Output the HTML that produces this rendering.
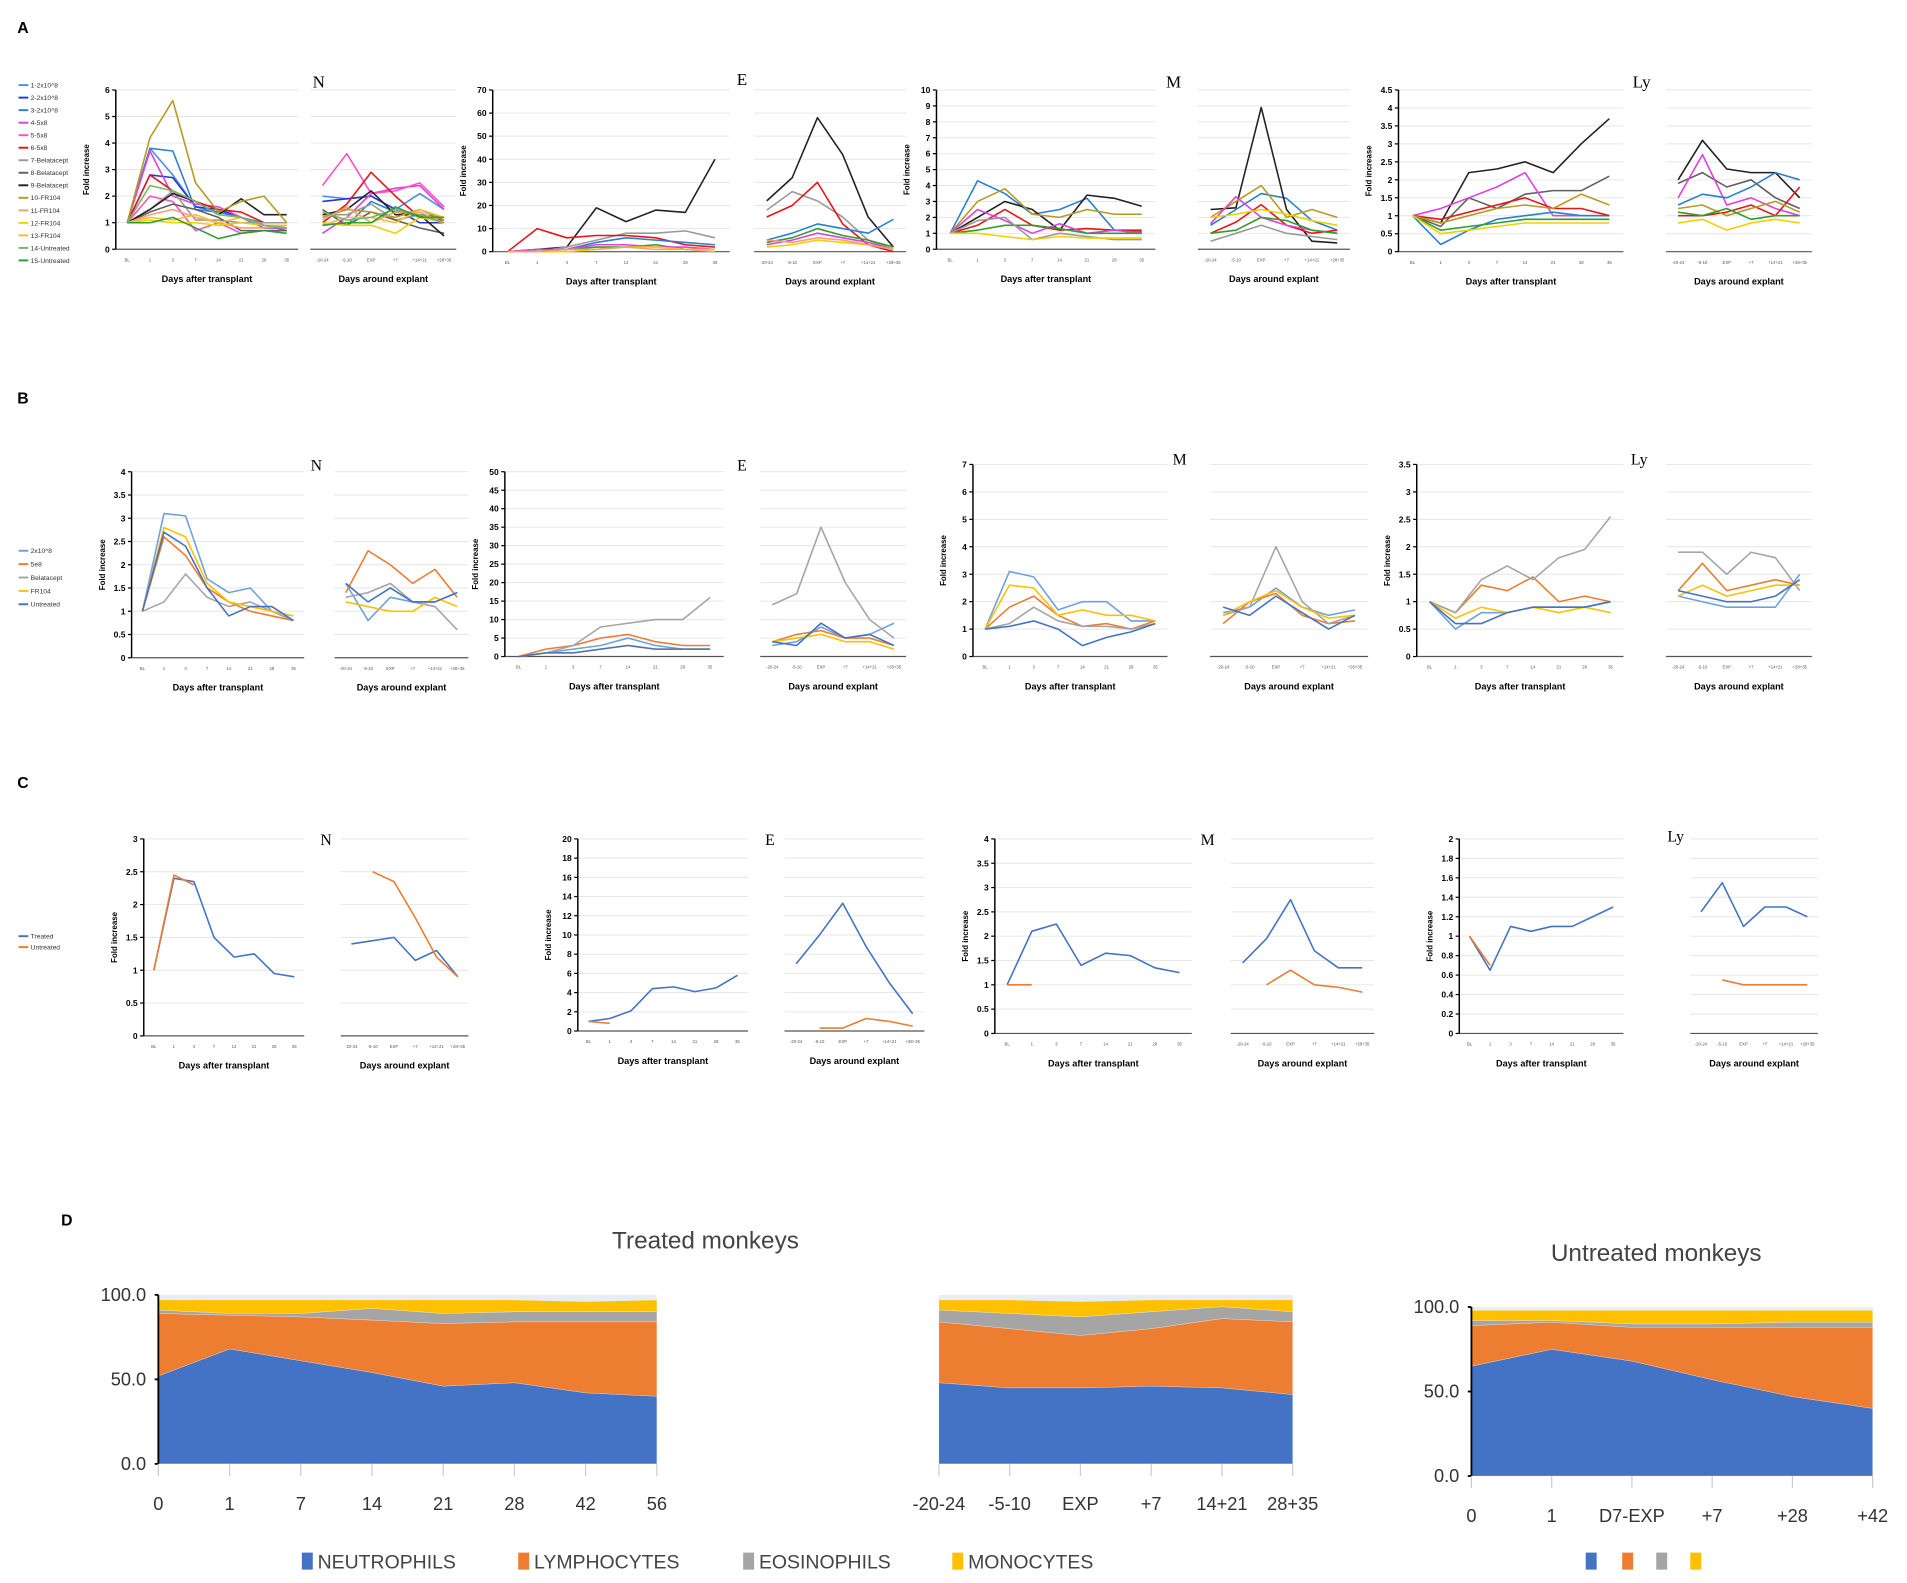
<!DOCTYPE html>
<html><head><meta charset="utf-8"><style>
html,body{margin:0;padding:0;background:#fff}
svg{display:block;font-family:"Liberation Sans",sans-serif}
</style></head><body>
<svg id="fig" width="1907" height="1583" viewBox="0 0 1568 1302" xmlns="http://www.w3.org/2000/svg">
<rect width="1568" height="1302" fill="#fff"/>
<g id="root"></g>
</svg>
<script>
// ---------- DATA ----------
const leftDays = ["BL","1","3","7","14","21","28","35"];
const rightDays = ["-20-24","-5-10","EXP","+7","+14+21","+28+35"];
const dCatsTreated = ["0","1","7","14","21","28","42","56"];
const dCatsMid = ["-20-24","-5-10","EXP","+7","14+21","28+35"];
const dCatsUntreated = ["0","1","D7-EXP","+7","+28","+42"];

const aLegend = ["1-2x10^8","2-2x10^8","3-2x10^8","4-5x8","5-5x8","6-5x8","7-Belatacept","8-Belatacept","9-Belatacept","10-FR104","11-FR104","12-FR104","13-FR104","14-Untreated","15-Untreated"];
const aColors = ["#4a8fdc","#2438d8","#2a7fd0","#e040e0","#ff50c8","#e8141a","#9a9a9a","#606060","#222222","#b89a20","#f4a070","#f0d000","#f5c030","#78b868","#2e9e2e"];

const aNLeft = [[1,3.8,2.8,1.6,1.4,1.2,1.0,1.0],[1,2.8,2.7,1.6,1.5,1.2,0.8,0.8],[1,3.8,3.7,1.5,1.4,1.2,0.9,0.7],[1,3.7,2.0,1.7,1.6,1.2,0.8,0.8],[1,2.0,1.8,0.7,1.0,0.6,0.7,0.7],[1,2.8,2.2,1.8,1.5,1.4,1.0,1.0],[1,1.5,2.2,1.1,1.1,1.0,1.0,1.0],[1,1.4,1.7,1.5,1.2,0.7,0.7,0.7],[1,1.5,2.1,1.8,1.3,1.9,1.3,1.3],[1,4.2,5.6,2.5,1.4,1.8,2.0,1.0],[1,1.3,1.5,1.2,1.0,0.8,0.8,0.9],[1,1.1,1.0,1.0,0.9,1.0,0.9,0.8],[1,1.2,1.1,1.3,1.0,1.2,0.9,0.9],[1,2.4,2.2,1.8,1.3,1.2,0.9,0.8],[1,1.0,1.2,0.8,0.4,0.6,0.7,0.6]];
const aNRight = [[2.0,1.9,2.0,1.5,2.1,1.5],[1.8,1.9,2.0,1.5,1.0,1.0],[1.0,0.9,1.8,1.4,1.3,1.2],[0.6,1.2,2.1,2.3,2.4,1.5],[2.4,3.6,2.1,2.2,2.5,1.6],[1.0,1.7,2.9,2.0,1.2,1.1],[1.3,1.3,1.7,1.1,1.3,1.0],[1.5,0.9,1.4,1.1,0.8,0.6],[1.3,1.5,2.2,1.3,1.3,0.5],[1.2,1.5,1.4,1.2,1.5,1.1],[1.1,1.6,1.0,1.4,1.4,1.0],[1.0,0.9,0.9,0.6,1.2,1.0],[0.9,1.2,1.2,1.0,1.5,1.2],[1.4,1.1,1.2,1.5,1.3,1.0],[0.9,1.0,1.0,1.6,1.2,1.2]];
const aSubColors = ["#222222","#9a9a9a","#e8141a","#2a7fd0","#2e9e2e","#e040e0","#f0d000","#f4a070"];
const aELeft = [[0,1,2,19,13,18,17,40],[0,0,2,5,8,8,9,6],[0,10,6,7,7,6,3,2],[0,0,1,4,6,5,4,3],[0,0,1,2,2,3,1,1],[0,1,1,3,3,2,2,1],[0,0,0,1,2,2,1,1],[0,0,1,1,2,1,1,0]];
const aERight = [[22,32,58,42,15,2],[18,26,22,15,5,1],[15,20,30,12,3,0],[5,8,12,10,8,14],[4,6,10,7,5,2],[3,5,8,6,4,1],[2,3,5,4,3,1],[5,4,6,5,3,1]];
const aMColors = ["#2a7fd0","#222222","#b89a20","#e8141a","#e040e0","#2e9e2e","#9a9a9a","#f0d000"];
const aMLeft = [[1,4.3,3.5,2.2,2.5,3.2,1.2,1.1],[1,2,3,2.5,1.2,3.4,3.2,2.7],[1,3,3.8,2.2,2.0,2.5,2.2,2.2],[1,1.5,2.5,1.5,1.2,1.3,1.2,1.2],[1,2.5,1.8,1.0,1.6,1.0,1.2,1.0],[1,1.2,1.5,1.5,1.3,1.0,1.0,1.0],[1,1.8,2.0,0.6,1.0,0.8,0.6,0.6],[1,1.0,0.8,0.6,0.8,0.7,0.7,0.7]];
const aMRight = [[1.5,2.5,3.5,3.2,1.8,1.2],[2.5,2.6,8.9,2.5,0.5,0.4],[2.0,3.0,4.0,2.0,2.5,2.0],[1.0,1.7,2.8,1.5,1.0,1.2],[1.6,3.3,2.0,1.5,1.2,1.0],[1.0,1.2,2.0,1.8,1.2,1.0],[0.5,1.0,1.5,1.0,0.8,0.6],[2.0,2.2,2.5,2.2,1.8,1.5]];
const aLyColors = ["#222222","#606060","#e040e0","#2a7fd0","#e8141a","#b89a20","#2e9e2e","#f0d000"];
const aLyLeft = [[1,0.8,2.2,2.3,2.5,2.2,3,3.7],[1,0.7,1.5,1.2,1.6,1.7,1.7,2.1],[1,1.2,1.5,1.8,2.2,1.0,1.0,1.0],[1,0.2,0.6,0.9,1.0,1.1,1.0,1.0],[1,0.9,1.1,1.3,1.5,1.2,1.2,1.0],[1,0.8,1.0,1.2,1.3,1.2,1.6,1.3],[1,0.6,0.7,0.8,0.9,0.9,0.9,0.9],[1,0.5,0.6,0.7,0.8,0.8,0.8,0.8]];
const aLyRight = [[2.0,3.1,2.3,2.2,2.2,1.5],[1.9,2.2,1.8,2.0,1.5,1.2],[1.5,2.7,1.3,1.5,1.2,1.0],[1.3,1.6,1.5,1.8,2.2,2.0],[1.0,1.0,1.1,1.3,1.0,1.8],[1.2,1.3,1.0,1.2,1.4,1.1],[1.1,1.0,1.2,0.9,1.0,1.0],[0.8,0.9,0.6,0.8,0.9,0.8]];

const bLegend = ["2x10^8","5e8","Belatacept","FR104","Untreated"];
const bColors = ["#6fa0e0","#ed7d31","#a5a5a5","#ffc000","#4472c4"];
const bNLeft = [[1,3.1,3.05,1.7,1.4,1.5,1.0,0.8],[1,2.6,2.2,1.5,1.2,1.0,0.9,0.8],[1,1.2,1.8,1.3,1.1,1.2,1.0,0.8],[1,2.8,2.6,1.6,1.2,1.1,1.0,0.9],[1,2.7,2.4,1.5,0.9,1.1,1.1,0.8]];
const bNRight = [[1.6,0.8,1.3,1.2,1.2,1.4],[1.4,2.3,2.0,1.6,1.9,1.3],[1.3,1.4,1.6,1.2,1.1,0.6],[1.2,1.1,1.0,1.0,1.3,1.1],[1.6,1.2,1.5,1.2,1.2,1.4]];
const bELeft = [[0,1,2,3,5,3,2,2],[0,2,3,5,6,4,3,3],[0,1,3,8,9,10,10,16],[0,1,1,2,3,2,2,2],[0,1,1,2,3,2,2,2]];
const bERight = [[3,4,8,5,6,9],[4,6,7,5,5,3],[14,17,35,20,10,5],[4,5,6,4,4,2],[4,3,9,5,6,3]];
const bMLeft = [[1,3.1,2.9,1.7,2.0,2.0,1.3,1.3],[1,1.8,2.2,1.5,1.1,1.2,1.0,1.3],[1,1.2,1.8,1.3,1.1,1.1,1.0,1.2],[1,2.6,2.5,1.5,1.7,1.5,1.5,1.3],[1,1.1,1.3,1.0,0.4,0.7,0.9,1.2]];
const bMRight = [[1.6,1.8,2.5,1.8,1.5,1.7],[1.2,2.0,2.3,1.5,1.2,1.3],[1.5,1.8,4.0,2.0,1.2,1.5],[1.5,2.0,2.4,1.8,1.4,1.5],[1.8,1.5,2.2,1.6,1.0,1.5]];
const bLyLeft = [[1,0.5,0.8,0.8,0.9,0.9,0.9,1.0],[1,0.8,1.3,1.2,1.45,1.0,1.1,1.0],[1,0.8,1.4,1.65,1.4,1.8,1.95,2.55],[1,0.7,0.9,0.8,0.9,0.8,0.9,0.8],[1,0.6,0.6,0.8,0.9,0.9,0.9,1.0]];
const bLyRight = [[1.1,1.0,0.9,0.9,0.9,1.5],[1.2,1.7,1.2,1.3,1.4,1.3],[1.9,1.9,1.5,1.9,1.8,1.2],[1.1,1.3,1.1,1.2,1.3,1.3],[1.2,1.1,1.0,1.0,1.1,1.4]];

const cLegend = ["Treated","Untreated"];
const cColors = ["#4472c4","#ed7d31"];
const cNLeft = [[1,2.4,2.35,1.5,1.2,1.25,0.95,0.9],[1,2.45,2.3,null,null,null,null,null]];
const cNRight = [[1.4,1.45,1.5,1.15,1.3,0.9],[null,2.5,2.35,1.8,1.2,0.9]];
const cELeft = [[1,1.3,2.1,4.4,4.6,4.1,4.5,5.8],[1,0.8,null,null,null,null,null,null]];
const cERight = [[7,10,13.3,8.8,5,1.8],[null,0.3,0.3,1.3,1,0.5]];
const cMLeft = [[1,2.1,2.25,1.4,1.65,1.6,1.35,1.25],[1,1,null,null,null,null,null,null]];
const cMRight = [[1.45,1.95,2.75,1.7,1.35,1.35],[null,1,1.3,1,0.95,0.85]];
const cLyLeft = [[1,0.65,1.1,1.05,1.1,1.1,1.2,1.3],[1,0.7,null,null,null,null,null,null]];
const cLyRight = [[1.25,1.55,1.1,1.3,1.3,1.2],[null,0.55,0.5,0.5,0.5,0.5]];

const dNames = ["NEUTROPHILS","LYMPHOCYTES","EOSINOPHILS","MONOCYTES"];
const dColors = ["#4472c4","#ed7d31","#a5a5a5","#ffc000"];
const dTreatedNeut = [52,68,61,54,46,48,42,40];
const dTreatedLymph = [37,20,26,31,37,36,42,44];
const dTreatedEos = [2,1,2,7,6,6,6,6];
const dTreatedMono = [6,8,8,5,8,7,6,7];
const dMidNeut = [48,45,45,46,45,41];
const dMidLymph = [36,35,31,34,41,43];
const dMidEos = [7,9,11,10,7,6];
const dMidMono = [6,8,9,7,4,7];
const dUntrNeut = [65,75,68,57,47,40];
const dUntrLymph = [24,16,20,31,41,48];
const dUntrEos = [3,1,2,2,3,3];
const dUntrMono = [6,6,8,8,7,7];

// ---------- HELPERS ----------
const NS = "http://www.w3.org/2000/svg";
const root = document.getElementById('root');
function el(tag, attrs, parent, txt){
  const e = document.createElementNS(NS, tag);
  for (const k in attrs) e.setAttribute(k, attrs[k]);
  if (txt !== undefined) e.textContent = txt;
  (parent || root).appendChild(e);
  return e;
}
function txt(x,y,s,size,opts,parent,name){
  opts = opts||{};
  const t = el('text',{x:x,y:y,'font-size':size,fill:opts.fill||'#000','text-anchor':opts.anchor||'start','font-weight':opts.bold?'bold':'normal','font-family':opts.serif?'"Liberation Serif",serif':'"Liberation Sans",sans-serif'},parent,s);
  if (opts.rot) t.setAttribute('transform','rotate(-90 '+x+' '+y+')');
  
  
  return t;
}

// line panel
function linePanel(name, x0, x1, yTop, yBot, yMax, step, cats, series, colors, showY, xTitle, sw){
  const g = el('g',{});
  
  
  const n = cats.length;
  const pad = (x1-x0)/(n*2);
  const xs = i => x0 + pad + i*((x1-x0-2*pad)/(n-1));
  const ys = v => yBot - (v/yMax)*(yBot-yTop);
  for (let v=0; v<=yMax+1e-9; v+=step){
    const y = ys(v);
    if (v>0){ const gl = el('line',{x1:x0,x2:x1,y1:y,y2:y,stroke:'#e6e6e6','stroke-width':0.8},g);
        }
    if (showY){
      el('line',{x1:x0-3,x2:x0,y1:y,y2:y,stroke:'#000','stroke-width':1},g);
      txt(x0-5,y+2.5,String(Math.round(v*10)/10),7,{anchor:'end',bold:true},g,'y-tick-label');
    }
  }
  const ax = el('line',{x1:x0,x2:x1,y1:yBot,y2:yBot,stroke:'#555','stroke-width':1},g);
   
  if (showY){
    const ay = el('line',{x1:x0,x2:x0,y1:yTop,y2:yBot,stroke:'#000','stroke-width':1.2},g);
     
    txt(x0-22,(yTop+yBot)/2,'Fold increase',6.5,{anchor:'middle',bold:true,rot:true},g,'y-axis-title');
  }
  for (let i=0;i<n;i++){
    txt(xs(i),yBot+10,cats[i],3.5,{anchor:'middle',fill:'#555'},g,'x-tick-label');
  }
  txt((x0+x1)/2,yBot+27,xTitle,7.5,{anchor:'middle',bold:true},g,'x-axis-title');
  series.forEach((s,si)=>{
    let d='';
    let started=false;
    s.forEach((v,i)=>{ if (v===null||v===undefined){started=false;return;}
      d += (started?'L':'M')+xs(i).toFixed(1)+' '+ys(v).toFixed(1)+' '; started=true; });
    const p = el('path',{d:d,fill:'none',stroke:colors[si%colors.length],'stroke-width':sw||1.3,'stroke-linejoin':'round'},g);
    
    
  });
  return g;
}

function legend(names, colors, x, y, dy, size, name){
  const g = el('g',{});
  
  
  names.forEach((nm,i)=>{
    el('line',{x1:x,x2:x+8,y1:y+i*dy-2,y2:y+i*dy-2,stroke:colors[i],'stroke-width':1.6},g);
    txt(x+10,y+i*dy,nm,size,{fill:'#333'},g,'legend-entry');
  });
}

function areaPanel(name, x0, x1, yTop, yBot, cats, layers, showY){
  const g = el('g',{});
  
  
  const n = cats.length;
  const xs = i => x0 + i*(x1-x0)/(n-1);
  const ys = v => yBot - v/100*(yBot-yTop);
  // background top band
  const bg = el('rect',{x:x0,y:ys(100),width:x1-x0,height:ys(0)-ys(100),fill:'#e8ecf4'},g);
   
  let base = new Array(n).fill(0);
  layers.forEach((L,li)=>{
    const top = L.map((v,i)=>base[i]+v);
    let pts = [];
    for (let i=0;i<n;i++) pts.push(xs(i).toFixed(1)+','+ys(top[i]).toFixed(1));
    for (let i=n-1;i>=0;i--) pts.push(xs(i).toFixed(1)+','+ys(base[i]).toFixed(1));
    const p = el('polygon',{points:pts.join(' '),fill:dColors[li],stroke:'#fff','stroke-width':0.4,'stroke-opacity':0.5},g);
    
    
    base = top;
  });
  if (showY){
    const ay = el('line',{x1:x0,x2:x0,y1:ys(100),y2:ys(0),stroke:'#000','stroke-width':1.5},g);
     
    [0,50,100].forEach(v=>{
      el('line',{x1:x0-3,x2:x0,y1:ys(v),y2:ys(v),stroke:'#000','stroke-width':1.5},g);
      txt(x0-10,ys(v)+5,v.toFixed(1),15,{anchor:'end',fill:'#333'},g,'y-tick-label');
    });
  }
  for (let i=0;i<n;i++){
    el('line',{x1:xs(i),x2:xs(i),y1:yBot,y2:yBot+10,stroke:'#ccc','stroke-width':1},g);
    txt(xs(i),yBot+38,cats[i],15,{anchor:'middle',fill:'#333'},g,'x-tick-label');
  }
}

// ---------- PANEL LABELS ----------
txt(14,27,'A',13,{bold:true},null,'panel-label-a');
txt(14,332,'B',13,{bold:true},null,'panel-label-b');
txt(14,648,'C',13,{bold:true},null,'panel-label-c');
txt(50,1008,'D',13,{bold:true},null,'panel-label-d');

// ---------- PANEL A ----------
legend(aLegend, aColors, 15, 72, 10.3, 5.5, 'legend-a');
linePanel('a-n-left',95,245,74,205,6,1,leftDays,aNLeft,aColors,true,'Days after transplant');
linePanel('a-n-right',255,375,74,205,6,1,rightDays,aNRight,aColors,false,'Days around explant');
txt(262,72,'N',14,{anchor:'middle',serif:true},null,'title-a-n');
linePanel('a-e-left',405,600,74,207,70,10,leftDays,aELeft,aSubColors,true,'Days after transplant');
linePanel('a-e-right',620,745,74,207,70,10,rightDays,aERight,aSubColors,false,'Days around explant');
txt(610,70,'E',14,{anchor:'middle',serif:true},null,'title-a-e');
linePanel('a-m-left',770,950,74,205,10,1,leftDays,aMLeft,aMColors,true,'Days after transplant');
linePanel('a-m-right',985,1110,74,205,10,1,rightDays,aMRight,aMColors,false,'Days around explant');
txt(965,72,'M',14,{anchor:'middle',serif:true},null,'title-a-m');
linePanel('a-ly-left',1150,1335,74,207,4.5,0.5,leftDays,aLyLeft,aLyColors,true,'Days after transplant');
linePanel('a-ly-right',1370,1490,74,207,4.5,0.5,rightDays,aLyRight,aLyColors,false,'Days around explant');
txt(1350,72,'Ly',14,{anchor:'middle',serif:true},null,'title-a-ly');

// ---------- PANEL B ----------
legend(bLegend, bColors, 15, 455, 11, 5.5, 'legend-b');
linePanel('b-n-left',108,250,388,541,4,0.5,leftDays,bNLeft,bColors,true,'Days after transplant');
linePanel('b-n-right',275,385,388,541,4,0.5,rightDays,bNRight,bColors,false,'Days around explant');
txt(260,387,'N',13,{anchor:'middle',serif:true},null,'title-b-n');
linePanel('b-e-left',415,595,388,540,50,5,leftDays,bELeft,bColors,true,'Days after transplant');
linePanel('b-e-right',625,745,388,540,50,5,rightDays,bERight,bColors,false,'Days around explant');
txt(610,387,'E',13,{anchor:'middle',serif:true},null,'title-b-e');
linePanel('b-m-left',800,960,382,540,7,1,leftDays,bMLeft,bColors,true,'Days after transplant');
linePanel('b-m-right',995,1125,382,540,7,1,rightDays,bMRight,bColors,false,'Days around explant');
txt(970,382,'M',13,{anchor:'middle',serif:true},null,'title-b-m');
linePanel('b-ly-left',1165,1335,382,540,3.5,0.5,leftDays,bLyLeft,bColors,true,'Days after transplant');
linePanel('b-ly-right',1370,1490,382,540,3.5,0.5,rightDays,bLyRight,bColors,false,'Days around explant');
txt(1348,382,'Ly',13,{anchor:'middle',serif:true},null,'title-b-ly');

// ---------- PANEL C ----------
legend(cLegend, cColors, 15, 772, 9, 5.5, 'legend-c');
linePanel('c-n-left',118,250,690,852,3,0.5,leftDays,cNLeft,cColors,true,'Days after transplant');
linePanel('c-n-right',280,385,690,852,3,0.5,rightDays,cNRight,cColors,false,'Days around explant');
txt(268,695,'N',13,{anchor:'middle',serif:true},null,'title-c-n');
linePanel('c-e-left',475,615,690,848,20,2,leftDays,cELeft,cColors,true,'Days after transplant');
linePanel('c-e-right',645,760,690,848,20,2,rightDays,cERight,cColors,false,'Days around explant');
txt(633,695,'E',13,{anchor:'middle',serif:true},null,'title-c-e');
linePanel('c-m-left',818,980,690,850,4,0.5,leftDays,cMLeft,cColors,true,'Days after transplant');
linePanel('c-m-right',1012,1130,690,850,4,0.5,rightDays,cMRight,cColors,false,'Days around explant');
txt(993,695,'M',13,{anchor:'middle',serif:true},null,'title-c-m');
linePanel('c-ly-left',1200,1335,690,850,2,0.2,leftDays,cLyLeft,cColors,true,'Days after transplant');
linePanel('c-ly-right',1390,1495,690,850,2,0.2,rightDays,cLyRight,cColors,false,'Days around explant');
txt(1378,692,'Ly',13,{anchor:'middle',serif:true},null,'title-c-ly');

// ---------- PANEL D ----------
txt(580,1027,'Treated monkeys',20,{anchor:'middle',fill:'#444'},null,'title-treated-monkeys');
txt(1362,1037,'Untreated monkeys',20,{anchor:'middle',fill:'#444'},null,'title-untreated-monkeys');
areaPanel('d-treated-area',130,540,1065,1204,dCatsTreated,[dTreatedNeut,dTreatedLymph,dTreatedEos,dTreatedMono],true);
areaPanel('d-explant-area',772,1063,1065,1204,dCatsMid,[dMidNeut,dMidLymph,dMidEos,dMidMono],false);
areaPanel('d-untreated-area',1210,1540,1075,1214,dCatsUntreated,[dUntrNeut,dUntrLymph,dUntrEos,dUntrMono],true);
const dl = el('g',{});


let lx = 248;
dNames.forEach((nm,i)=>{
  el('rect',{x:lx,y:1277,width:9,height:14,fill:dColors[i]},dl);
  txt(lx+13,1290,nm,16,{fill:'#444'},dl,'legend-entry');
  lx += [178,185,172,0][i];
});
[1304,1334,1362,1390].forEach((x,i)=>{
  const r = el('rect',{x:x,y:1277,width:9,height:14,fill:dColors[i]},dl);
  
  
});
</script>
</body></html>
